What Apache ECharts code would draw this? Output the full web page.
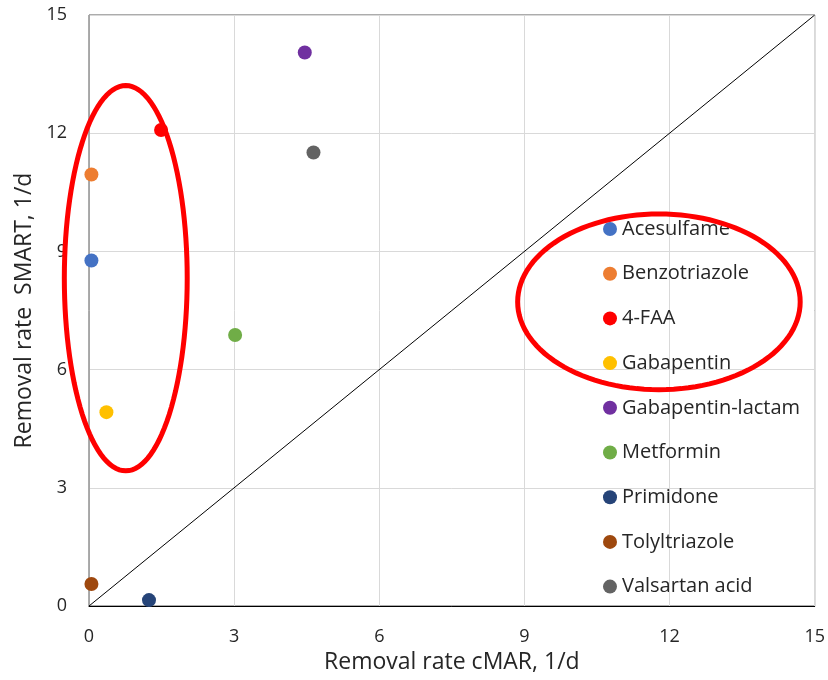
<!DOCTYPE html>
<html>
<head>
<meta charset="utf-8">
<script src="https://cdn.jsdelivr.net/npm/echarts@6/dist/echarts.min.js"></script>
<style>
  html, body { margin: 0; padding: 0; background: #fff; }
  #chart { width: 828px; height: 680px; }
</style>
</head>
<body>
<div id="chart"></div>
<script>
// compounds: [cMAR, SMART] removal rates, 1/d
var names = ['Acesulfame', 'Benzotriazole', '4-FAA', 'Gabapentin', 'Gabapentin-lactam',
             'Metformin', 'Primidone', 'Tolyltriazole', 'Valsartan acid'];
var cmar  = [0.05, 0.05, 1.49, 0.36, 4.46, 3.02, 1.24, 0.05, 4.64];
var smart = [8.77, 10.95, 12.08, 4.92, 14.05, 6.88, 0.15, 0.56, 11.51];
var colors = ['#4472C4', '#ED7D31', '#FF0000', '#FFC000', '#7030A0',
              '#70AD47', '#264478', '#9E480E', '#636363'];
var ticks = [0, 3, 6, 9, 12, 15];
// 1:1 line
var oneToOne = [[0, 0], [15, 15]];
// red hand-drawn ellipses (annotation): [cx, cy, rx, ry] in data units
var ellipses = [[0.76, 8.32, 1.27, 4.89], [11.78, 7.72, 2.92, 2.23]];

var FONT = 'Open Sans';
var chart = echarts.init(document.getElementById('chart'));

var series = names.map(function (n, i) {
    return {
        name: n,
        type: 'scatter',
        symbolSize: 14,
        itemStyle: { color: colors[i], opacity: 1 },
        data: [[cmar[i], smart[i]]],
        z: 3
    };
});

series.push({
    name: '1:1',
    type: 'line',
    data: oneToOne,
    symbol: 'none',
    lineStyle: { color: '#000', width: 1 },
    silent: true,
    z: 2
});

series.push({
    name: 'ellipse',
    type: 'custom',
    data: ellipses,
    silent: true,
    z: 4,
    renderItem: function (params, api) {
        var cx = api.value(0), cy = api.value(1), rx = api.value(2), ry = api.value(3);
        var pts = [];
        for (var k = 0; k < 120; k++) {
            var t = k / 120 * Math.PI * 2;
            pts.push(api.coord([cx + rx * Math.cos(t), cy + ry * Math.sin(t)]));
        }
        return {
            type: 'polygon',
            shape: { points: pts },
            style: { fill: 'none', stroke: '#FF0000', lineWidth: 5 }
        };
    }
});

var option = {
    backgroundColor: '#fff',
    animation: false,
    textStyle: { fontFamily: FONT },
    grid: {
        left: 89, top: 15, right: 13, bottom: 74,
        show: true, borderColor: '#595959', borderWidth: 1
    },
    legend: {
        data: names,
        orient: 'vertical',
        left: 603,
        top: 219,
        padding: 0,
        itemWidth: 14,
        itemHeight: 14,
        itemGap: 24.7,
        icon: 'circle',
        textStyle: { fontFamily: FONT, fontSize: 20, lineHeight: 20, color: '#262626' }
    },
    xAxis: {
        type: 'value',
        min: 0, max: 15, interval: 3,
        name: 'Removal rate cMAR, 1/d',
        nameLocation: 'middle',
        nameGap: 44,
        nameTextStyle: { fontFamily: FONT, fontSize: 23, color: '#262626' },
        axisLine: { lineStyle: { color: '#000', width: 1 } },
        axisTick: { show: false },
        axisLabel: { fontSize: 18, color: '#262626', margin: 22,
                     formatter: function (v) { return ticks.indexOf(v) >= 0 ? v : ''; } },
        splitLine: { lineStyle: { color: '#D9D9D9' } }
    },
    yAxis: {
        type: 'value',
        min: 0, max: 15, interval: 3,
        name: 'Removal rate  SMART, 1/d',
        nameLocation: 'middle',
        nameGap: 50,
        nameTextStyle: { fontFamily: FONT, fontSize: 23, color: '#262626' },
        axisLine: { show: true, lineStyle: { color: '#A6A6A6', width: 1 } },
        axisTick: { show: false },
        axisLabel: { fontSize: 18, color: '#262626', margin: 22 },
        splitLine: { lineStyle: { color: '#D9D9D9' } }
    },
    series: series
};

chart.setOption(option);
</script>
</body>
</html>
